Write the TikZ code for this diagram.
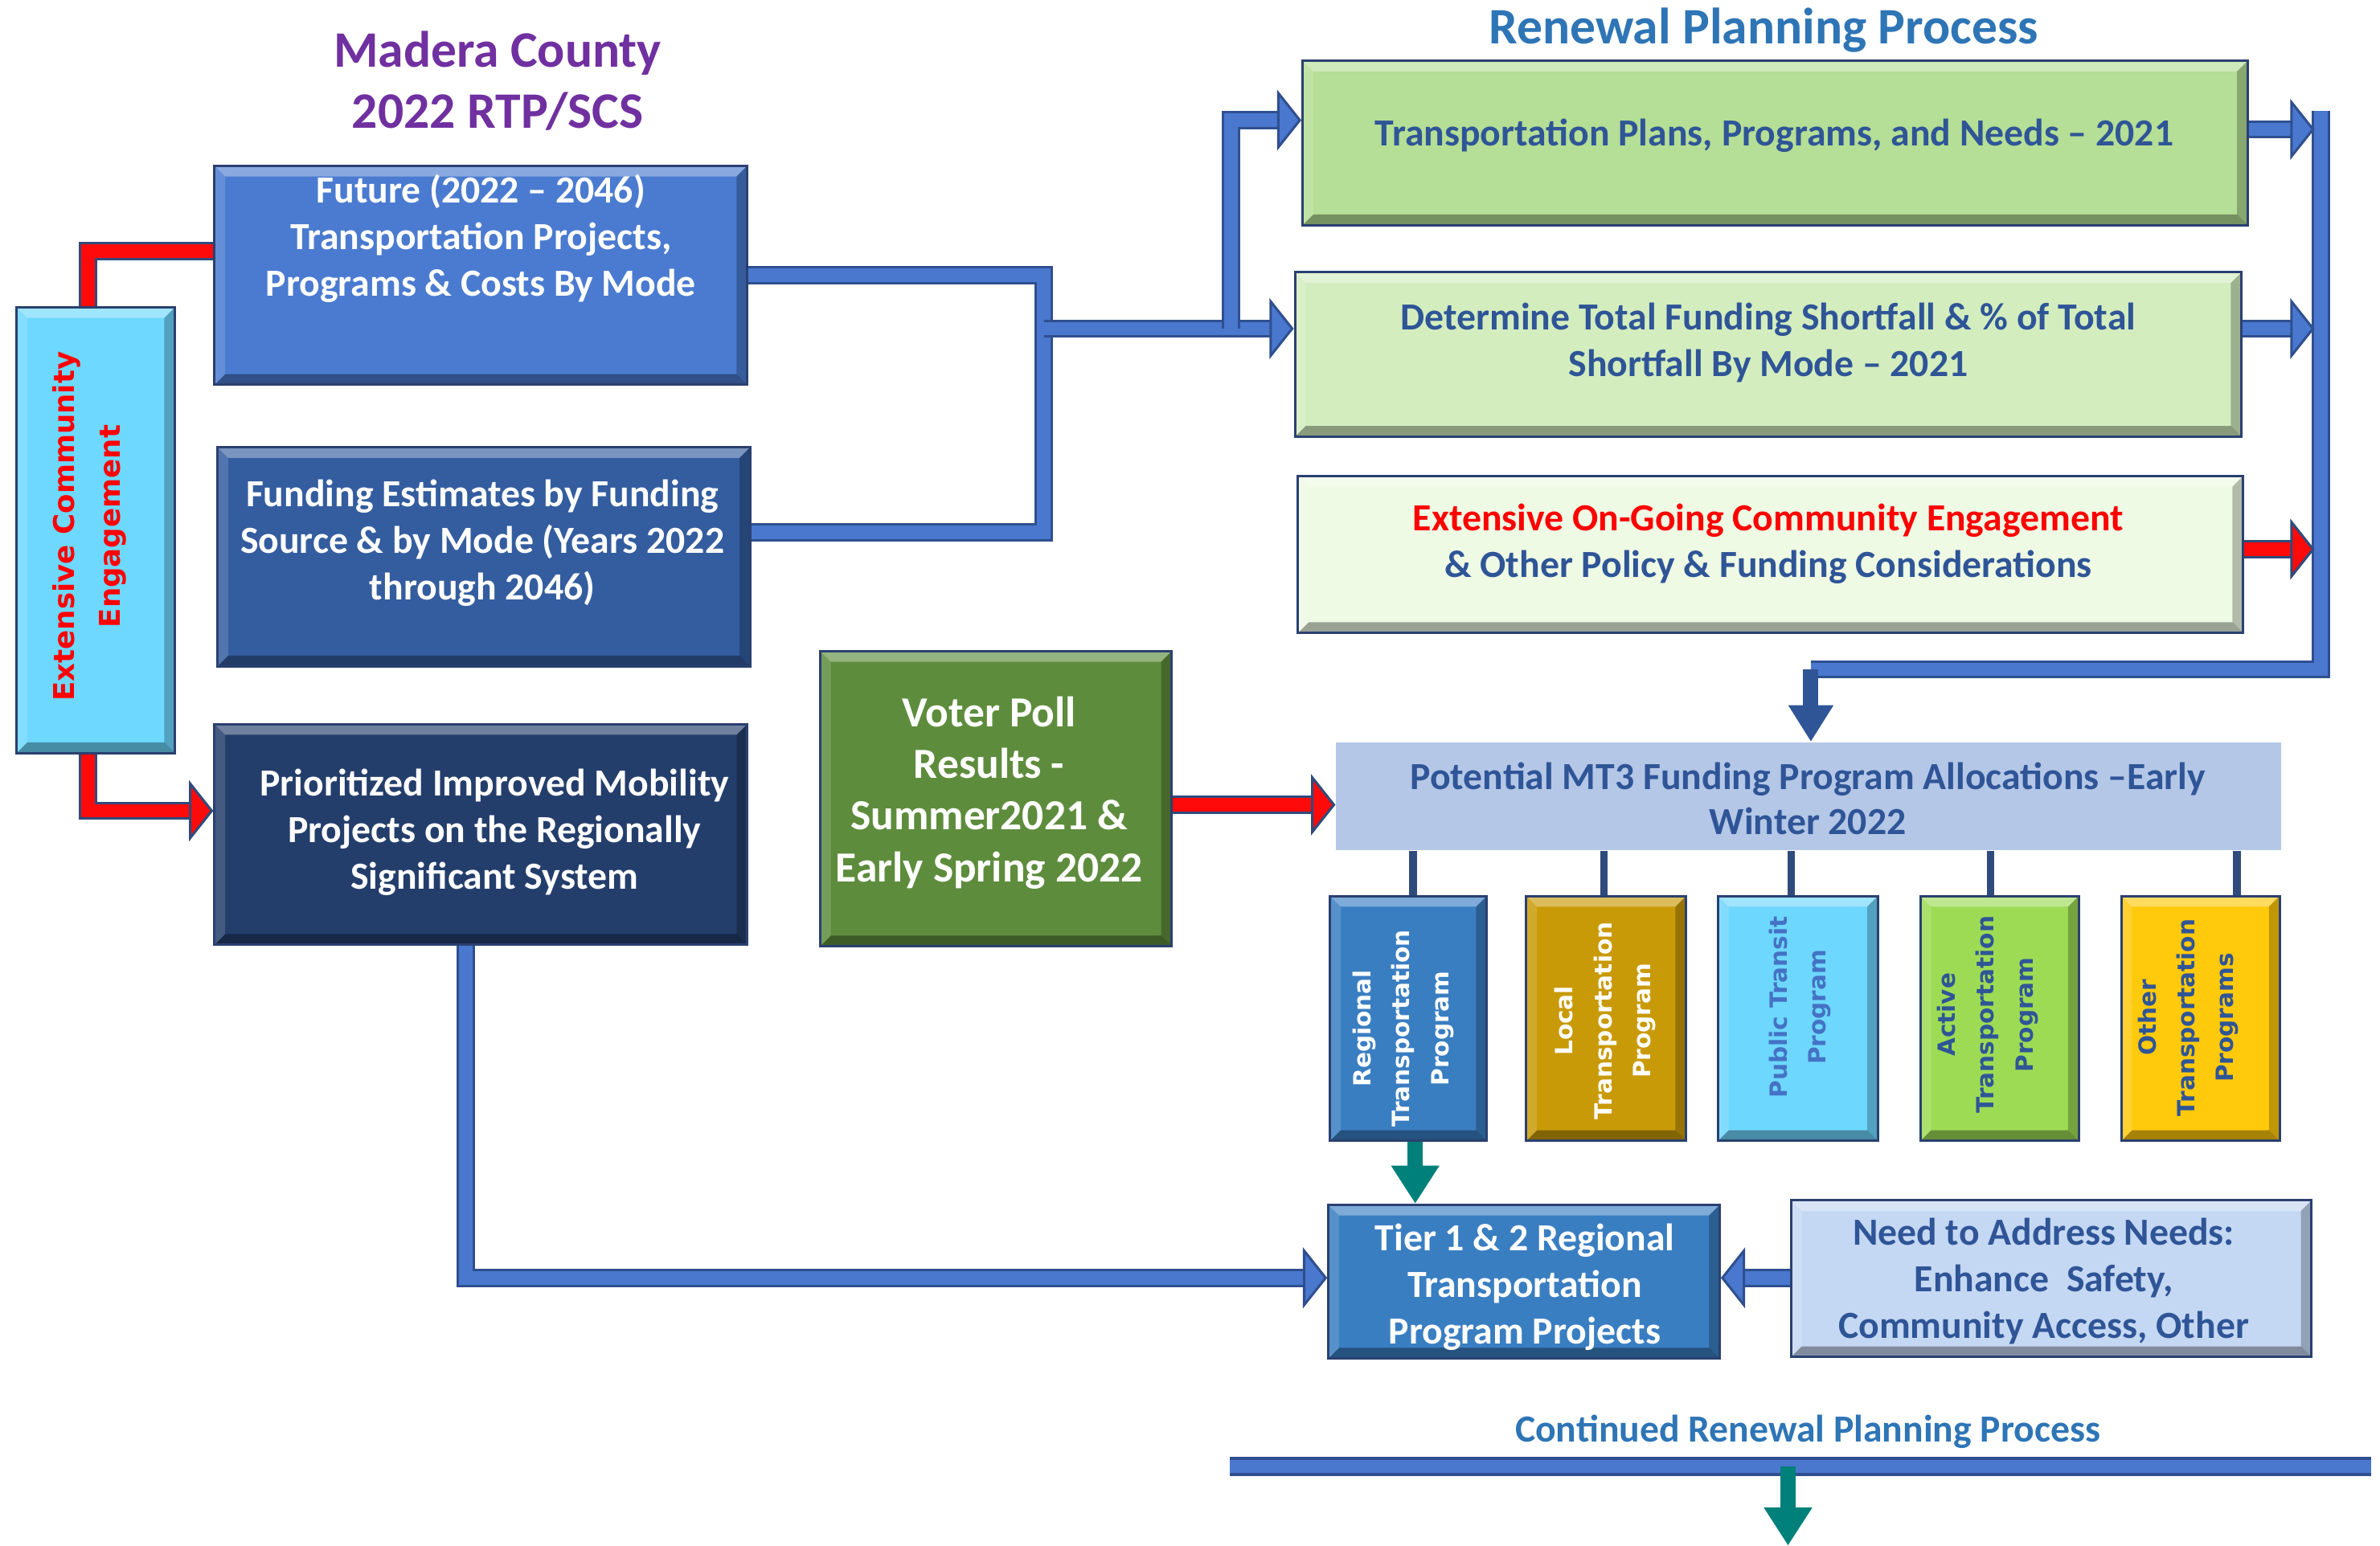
\documentclass[tikz,border=0pt]{standalone}
\usepackage{fontspec}
\setmainfont{Carlito}
\newfontfamily\vfont{DejaVu Sans}
\usetikzlibrary{arrows.meta,calc}
\definecolor{cPurple}{HTML}{7030A0}
\definecolor{cTitleBlue}{HTML}{2E75B6}
\definecolor{cDark}{HTML}{2F5597}
\definecolor{cFut}{HTML}{4A7BD0}
\definecolor{cFund}{HTML}{345D9F}
\definecolor{cPri}{HTML}{243E6C}
\definecolor{cECE}{HTML}{6ED8FE}
\definecolor{cVot}{HTML}{5E8C3D}
\definecolor{cTP}{HTML}{B5DE96}
\definecolor{cDet}{HTML}{D3EDBF}
\definecolor{cExt}{HTML}{EEFAE4}
\definecolor{cPot}{HTML}{B4C7E7}
\definecolor{cReg}{HTML}{3A7EC2}
\definecolor{cLoc}{HTML}{C99A08}
\definecolor{cPub}{HTML}{6ED7FE}
\definecolor{cAct}{HTML}{9DDB55}
\definecolor{cOth}{HTML}{FFC90C}
\definecolor{cNeed}{HTML}{C5D8F3}
\definecolor{cPubTxt}{HTML}{4472C4}
\definecolor{pipeL}{HTML}{4A78CF}
\definecolor{pipeD}{HTML}{2F4F8F}
\definecolor{redL}{HTML}{FF0A0A}
\definecolor{redD}{HTML}{2F4B7C}
\definecolor{cTeal}{HTML}{00807A}
\definecolor{cStem}{HTML}{2F4B7C}
\definecolor{cBorder}{HTML}{2A4070}
\tikzset{
  bevel/.style={path picture={
    \fill[white,opacity=0.35] (path picture bounding box.north west) -- (path picture bounding box.north east)
      -- ([shift={(-3.5pt,-3.5pt)}]path picture bounding box.north east) -- ([shift={(3.5pt,-3.5pt)}]path picture bounding box.north west) -- cycle;
    \fill[black,opacity=0.35] (path picture bounding box.south west) -- (path picture bounding box.south east)
      -- ([shift={(-3.5pt,3.5pt)}]path picture bounding box.south east) -- ([shift={(3.5pt,3.5pt)}]path picture bounding box.south west) -- cycle;
    \fill[white,opacity=0.15] (path picture bounding box.north west) -- (path picture bounding box.south west)
      -- ([shift={(3.5pt,3.5pt)}]path picture bounding box.south west) -- ([shift={(3.5pt,-3.5pt)}]path picture bounding box.north west) -- cycle;
    \fill[black,opacity=0.25] (path picture bounding box.north east) -- (path picture bounding box.south east)
      -- ([shift={(-3.5pt,3.5pt)}]path picture bounding box.south east) -- ([shift={(-3.5pt,-3.5pt)}]path picture bounding box.north east) -- cycle;
  }},
  box/.style={rectangle, draw=cBorder, line width=0.8pt, inner sep=0pt, bevel},
  txt/.style={align=center, inner sep=0pt, font=\bfseries\fontsize{12.6}{15.3}\selectfont},
  rtxt/.style={rotate=90, align=center, inner sep=0pt, font=\vfont\bfseries\fontsize{7.8}{12.8}\selectfont},
  ttl/.style={align=center, inner sep=0pt, font=\bfseries\fontsize{16.8}{20}\selectfont},
  bpipe/.style={draw=pipeD, line width=0.8pt, double=pipeL, double distance=4.4pt},
  rpipe/.style={draw=redD, line width=0.8pt, double=redL, double distance=4.4pt},
  btip/.style={-{Triangle[length=8pt,width=20pt,fill=pipeL]}},
  rtip/.style={-{Triangle[length=8pt,width=20pt,fill=redL]}},
  tealarrow/.style={draw=cTeal, line width=5pt, -{Triangle[length=12.5pt,width=15pt]}},
  darkarrow/.style={draw=cDark, line width=5pt, -{Triangle[length=12pt,width=14pt]}},
  stem/.style={draw=cStem, line width=2.5pt}
}
\begin{document}
\begin{tikzpicture}[x=0.5pt,y=-0.5pt]
\useasboundingbox (0,0) rectangle (1564,1016);

% titles
\node[ttl, text=cPurple] (t1) at (327,53) {Madera County\\2022 RTP/SCS};
\node[ttl, text=cTitleBlue] (t2) at (1159,20) {Renewal Planning Process};
\node[txt, text=cTitleBlue] (t3) at (1188,941) {Continued Renewal Planning Process};

% left column
\node[box, fill=cECE, minimum width=52pt, minimum height=146.5pt] (ece) at (63,348.5) {};
\node[rotate=90, align=center, inner sep=0pt, text=red, font=\vfont\bfseries\fontsize{9.4}{15}\selectfont] (ecet) at (59,346) {Extensive Community\\Engagement};

\node[box, fill=cFut, minimum width=175pt, minimum height=72pt] (fut) at (316,181) {};
\node[txt, text=white] (futt) at (316,157) {Future (2022 – 2046)\\Transportation Projects,\\Programs \& Costs By Mode};

\node[box, fill=cFund, minimum width=175pt, minimum height=72pt] (fund) at (318,366) {};
\node[txt, text=white] (fundt) at (317,357) {Funding Estimates by Funding\\Source \& by Mode (Years 2022\\through 2046)};

\node[box, fill=cPri, minimum width=175pt, minimum height=72.5pt] (pri) at (316,548.5) {};
\node[txt, text=white] (prit) at (325,547) {Prioritized Improved Mobility\\Projects on the Regionally\\Significant System};

\node[box, fill=cVot, minimum width=115.5pt, minimum height=97pt] (vot) at (654.5,525) {};
\node[align=center, inner sep=0pt, text=white, font=\bfseries\fontsize{14.1}{17}\selectfont] (vott) at (650,521) {Voter Poll\\Results -\\Summer2021 \&\\Early Spring 2022};

% right column
\node[box, fill=cTP, minimum width=310.5pt, minimum height=54pt] (tp) at (1166.5,94) {};
\node[txt, text=cDark] (tpt) at (1166,89) {Transportation Plans, Programs, and Needs – 2021};

\node[box, fill=cDet, minimum width=311pt, minimum height=54pt] (det) at (1162,233) {};
\node[txt, text=cDark] (dett) at (1162,225.5) {Determine Total Funding Shortfall \& \% of Total\\Shortfall By Mode – 2021};

\node[box, fill=cExt, minimum width=310.5pt, minimum height=51.5pt] (ext) at (1163.5,364.5) {};
\node[txt, text=cDark] (extt) at (1162,357.5) {\textcolor{red}{Extensive On-Going Community Engagement}\\\& Other Policy \& Funding Considerations};

\node[rectangle, fill=cPot, inner sep=0pt, minimum width=310.5pt, minimum height=35.5pt] (pot) at (1188.5,523.5) {};
\node[align=center, inner sep=0pt, text=cDark, font=\bfseries\fontsize{12.6}{15}\selectfont] (pott) at (1188,525) {Potential MT3 Funding Program Allocations –Early\\Winter 2022};

% program boxes
\node[box, fill=cReg, minimum width=51.5pt, minimum height=80.5pt] (reg) at (925.5,669.5) {};
\node[rtxt, text=white] (regt) at (922,676) {Regional\\Transportation\\Program};
\node[box, fill=cLoc, minimum width=52.5pt, minimum height=80.5pt] (loc) at (1055.5,669.5) {};
\node[rtxt, text=white] (loct) at (1055,671) {Local\\Transportation\\Program};
\node[box, fill=cPub, minimum width=52.5pt, minimum height=80.5pt] (pub) at (1181.5,669.5) {};
\node[rtxt, text=cPubTxt] (pubt) at (1183,662) {Public Transit\\Program};
\node[box, fill=cAct, minimum width=52pt, minimum height=80.5pt] (act) at (1314,669.5) {};
\node[rtxt, text=cDark] (actt) at (1306,667) {Active\\Transportation\\Program};
\node[box, fill=cOth, minimum width=52pt, minimum height=80.5pt] (oth) at (1446,669.5) {};
\node[rtxt, text=cDark] (otht) at (1438,669) {Other\\Transportation\\Programs};

\node[box, fill=cReg, minimum width=128.5pt, minimum height=50.5pt] (tier) at (1001.5,842.5) {};
\node[txt, text=white] (tiert) at (1002,846) {Tier 1 \& 2 Regional\\Transportation\\Program Projects};

\node[box, fill=cNeed, minimum width=171pt, minimum height=51.5pt] (need) at (1348,840.5) {};
\node[txt, text=cDark] (needt) at (1343,842) {Need to Address Needs:\\Enhance\ \ Safety,\\Community Access, Other};

% helper coordinates
\coordinate (jL1) at (686,181);
\coordinate (jL2) at (686,350);
\coordinate (jM) at (686,216);
\coordinate (jN) at (809,216);
\coordinate (jN2) at (809,79);
\coordinate (rT) at (1525,73);
\coordinate (rB) at (1525,440);
\coordinate (rL) at (1190,440);
\coordinate (a1) at (1521,85);
\coordinate (a2) at (1521,216);
\coordinate (a3) at (1521,361);
\coordinate (vr) at (0,529);
\coordinate (pv) at (306,840);
\coordinate (bl) at (808,964);
\coordinate (br) at (1558,964);
\coordinate (bt) at (1175,964);
\coordinate (bb) at (1175,1016);
\coordinate (ecex) at (58,0);

% red connectors left
\draw[rpipe] ([yshift=8pt]fut.west) -| (ece.north -| ecex);
\draw[rpipe, rtip] (ece.south -| ecex) |- ([yshift=7.75pt]pri.west);

% blue connectors left
\draw[bpipe] (fut.east |- jL1) -- (jL1) -- (jL2) -- (jL2 -| fund.east);
\draw[bpipe, btip] (jM) -- (jM -| det.west);
\draw[bpipe, btip] (jN) -- (jN2) -- (jN2 -| tp.west);

% right collector
\draw[bpipe] (rT) -- (rB) -- (rL);
\draw[bpipe, btip] (tp.east |- a1) -- (a1);
\draw[bpipe, btip] (det.east |- a2) -- (a2);
\draw[rpipe, rtip] (ext.east |- a3) -- (a3);
\draw[darkarrow] (rL) -- (rL |- pot.north);

% voter poll
\draw[rpipe, rtip] (vot.east |- vr) -- (pot.west |- vr);

% stems
\draw[stem] ([xshift=1.5pt]reg.north |- pot.south) -- ([xshift=1.5pt]reg.north);
\draw[stem] ([xshift=-0.75pt]loc.north |- pot.south) -- ([xshift=-0.75pt]loc.north);
\draw[stem] ([xshift=-2.25pt]pub.north |- pot.south) -- ([xshift=-2.25pt]pub.north);
\draw[stem] ([xshift=-3pt]act.north |- pot.south) -- ([xshift=-3pt]act.north);
\draw[stem] ([xshift=12pt]oth.north |- pot.south) -- ([xshift=12pt]oth.north);

% to tier
\draw[tealarrow] ([xshift=2.25pt]reg.south) -- ([xshift=2.25pt]reg.south |- tier.north);
\draw[bpipe, btip] (pri.south -| pv) -- (pv) -- (pv -| tier.west);
\draw[bpipe, btip] (need.west |- pv) -- (tier.east |- pv);

% bottom
\draw[draw=pipeD, line width=0.9pt, double=pipeL, double distance=4.4pt] (bl) -- (br);
\draw[tealarrow] (bt) -- (bb);
\end{tikzpicture}
\end{document}
